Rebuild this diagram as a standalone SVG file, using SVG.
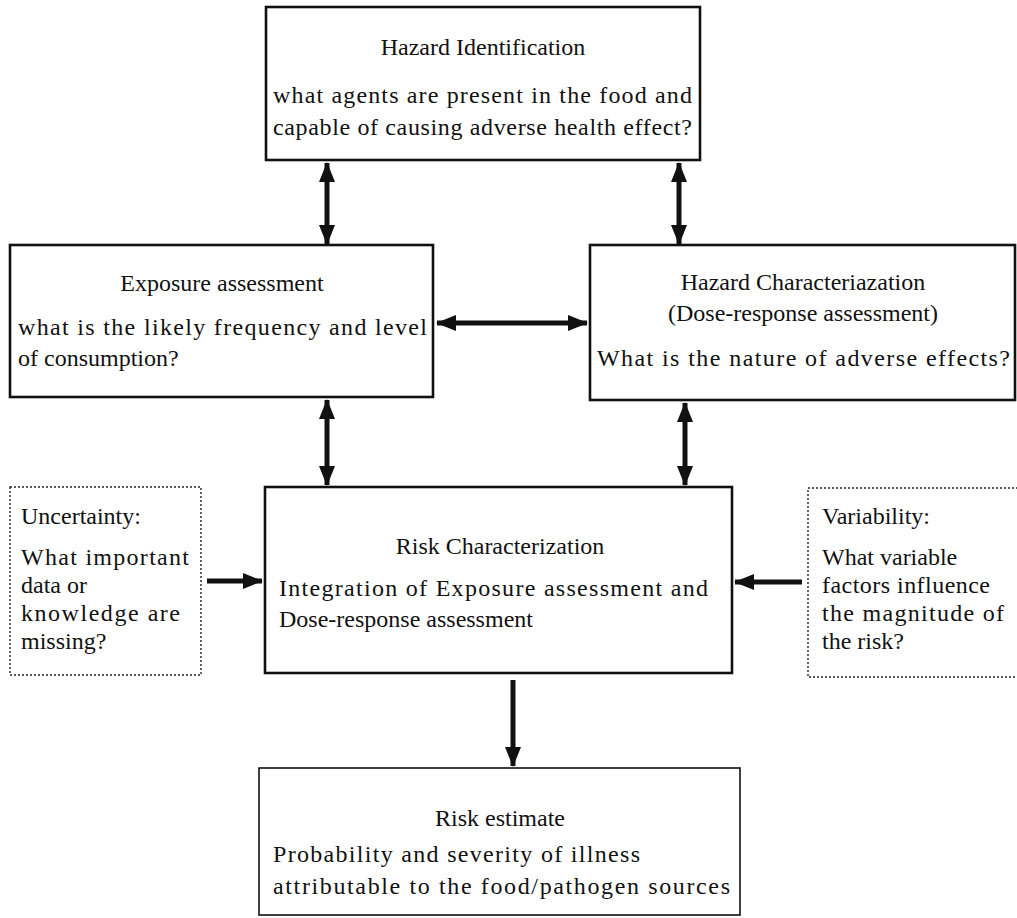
<svg xmlns="http://www.w3.org/2000/svg" width="1017" height="918" viewBox="0 0 1017 918">
<style>
  text { font-family: "Liberation Serif", "DejaVu Serif", serif; font-size: 24px; fill: #111; }
  .c { text-anchor: middle; }
  .box { fill: #fff; stroke: #111; stroke-width: 2.6; }
  .thin { fill: #fff; stroke: #111; stroke-width: 1.6; }
  .dot { fill: #fff; stroke: #222; stroke-width: 1.4; stroke-dasharray: 2 2; }
  .arr { stroke: #111; stroke-width: 5; fill: none; }
</style>
<defs>
  <marker id="ah" viewBox="0 0 20 16" refX="19" refY="8" markerWidth="20" markerHeight="16" markerUnits="userSpaceOnUse" orient="auto-start-reverse">
    <path d="M0,0 L20,8 L0,16 Z" fill="#111"/>
  </marker>
</defs>
<rect width="1017" height="918" fill="#fff"/>

<g id="connectors">
  <line class="arr" x1="327" y1="163" x2="327" y2="244" marker-start="url(#ah)" marker-end="url(#ah)"/>
  <line class="arr" x1="679" y1="163" x2="679" y2="244" marker-start="url(#ah)" marker-end="url(#ah)"/>
  <line class="arr" x1="437" y1="323" x2="587" y2="323" marker-start="url(#ah)" marker-end="url(#ah)"/>
  <line class="arr" x1="327" y1="400" x2="327" y2="485" marker-start="url(#ah)" marker-end="url(#ah)"/>
  <line class="arr" x1="685" y1="403" x2="685" y2="485" marker-start="url(#ah)" marker-end="url(#ah)"/>
  <line class="arr" x1="207" y1="581" x2="262" y2="581" marker-end="url(#ah)"/>
  <line class="arr" x1="802" y1="582" x2="735" y2="582" marker-end="url(#ah)"/>
  <line class="arr" x1="513" y1="680" x2="513" y2="766" marker-end="url(#ah)"/>
</g>

<g id="hazard-identification">
  <rect class="box" x="266" y="7" width="434" height="153"/>
  <text class="c" x="483" y="55">Hazard Identification</text>
  <text x="273" y="103" textLength="419">what agents are present in the food and</text>
  <text x="273" y="135" textLength="419">capable of causing adverse health effect?</text>
</g>

<g id="exposure-assessment">
  <rect class="box" x="10" y="245" width="423" height="152"/>
  <text class="c" x="222" y="291">Exposure assessment</text>
  <text x="18" y="335" textLength="409">what is the likely frequency and level</text>
  <text x="18" y="366">of consumption?</text>
</g>

<g id="hazard-characterization">
  <rect class="box" x="590" y="245" width="425" height="155"/>
  <text class="c" x="803" y="290">Hazard Characteriazation</text>
  <text class="c" x="803" y="321">(Dose-response assessment)</text>
  <text x="597" y="366" textLength="413">What is the nature of adverse effects?</text>
</g>

<g id="uncertainty">
  <rect class="dot" x="10" y="487" width="191" height="188"/>
  <text x="21" y="524">Uncertainty:</text>
  <text x="21" y="565" textLength="168">What important</text>
  <text x="21" y="593">data or</text>
  <text x="21" y="621" textLength="159">knowledge are</text>
  <text x="21" y="649">missing?</text>
</g>

<g id="risk-characterization">
  <rect class="box" x="265" y="487" width="467" height="186"/>
  <text class="c" x="500" y="554">Risk Characterization</text>
  <text x="279" y="596" textLength="429">Integration of Exposure assessment and</text>
  <text x="279" y="627">Dose-response assessment</text>
</g>

<g id="variability">
  <rect class="dot" x="808" y="488" width="215" height="189"/>
  <text x="822" y="524">Variability:</text>
  <text x="822" y="565">What variable</text>
  <text x="822" y="593" textLength="168">factors influence</text>
  <text x="822" y="621" textLength="182">the magnitude of</text>
  <text x="822" y="649">the risk?</text>
</g>

<g id="risk-estimate">
  <rect class="thin" x="259" y="768" width="481" height="147"/>
  <text class="c" x="500" y="826">Risk estimate</text>
  <text x="273" y="862" textLength="367">Probability and severity of illness</text>
  <text x="273" y="894" textLength="457">attributable to the food/pathogen sources</text>
</g>
</svg>
